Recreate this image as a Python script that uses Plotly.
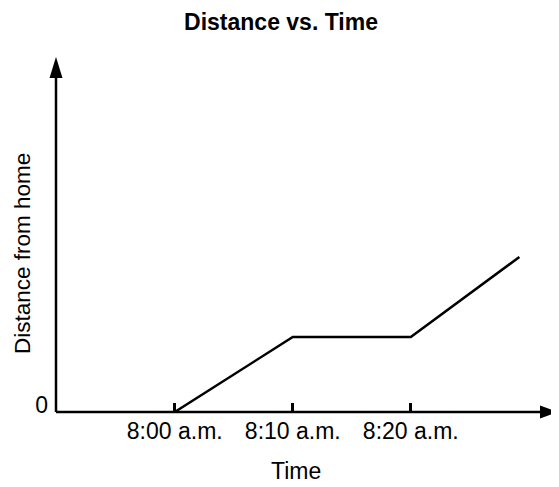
import plotly.graph_objects as go

# Data (minutes after 8:00 a.m., distance in arbitrary units)
times = [0, 10, 20, 29.2]
distances = [0, 3, 3, 6.2]
tick_vals = [0, 10, 20]
tick_labels = ["8:00 a.m.", "8:10 a.m.", "8:20 a.m."]

OFF = 8  # page body margin
W, H = 559 - OFF, 487 - OFF
PL, PR, PT, PB = 56, 558, 56, 412   # plot area in page pixels
ML, MR, MT, MB = PL - OFF, W - (PR - OFF), PT - OFF, H - (PB - OFF)
PW, PH = PR - PL, PB - PT
x_min, x_max = -10.06, 32.47
y_min, y_max = 0, 14.24
FONT = "Liberation Sans, Arial, Helvetica, sans-serif"
FS = 23


def px(x):
    return (x - PL) / PW


def py(y):
    return (PB - y) / PH


fig = go.Figure()
fig.add_trace(go.Scatter(x=times, y=distances, mode="lines",
                         line=dict(color="black", width=2.5),
                         hoverinfo="skip", showlegend=False))

# axis lines (paper-referenced so they are not clipped)
fig.add_shape(type="line", xref="paper", yref="paper", x0=0, x1=px(550), y0=0, y1=0,
              line=dict(color="black", width=2.5), layer="above")
fig.add_shape(type="line", xref="paper", yref="paper", x0=0, x1=0, y0=0, y1=py(70),
              line=dict(color="black", width=2.5), layer="above")
# arrowheads
fig.add_shape(type="path", xref="paper", yref="paper", xsizemode="pixel", ysizemode="pixel",
              xanchor=px(558), yanchor=0,
              path="M0,0 L-18,6.5 L-18,-6.5 Z",
              fillcolor="black", line=dict(color="black", width=0), layer="above")
fig.add_shape(type="path", xref="paper", yref="paper", xsizemode="pixel", ysizemode="pixel",
              xanchor=0, yanchor=py(57),
              path="M0,0 L-6.5,-21 L6.5,-21 Z",
              fillcolor="black", line=dict(color="black", width=0), layer="above")

fig.update_layout(
    width=W, height=H,
    margin=dict(l=ML, r=MR, t=MT, b=MB),
    paper_bgcolor="white", plot_bgcolor="white",
    font=dict(family=FONT, size=FS, color="black"),
    title=dict(text="<b>Distance vs. Time</b>", x=(281 - OFF) / W, xref="container",
               y=1 - (22 - OFF) / H, yref="container", yanchor="middle", xanchor="center",
               font=dict(family=FONT, size=FS, color="black")),
    xaxis=dict(range=[x_min, x_max], showgrid=False, zeroline=False, showline=False,
               tickvals=tick_vals, ticktext=tick_labels,
               ticks="inside", ticklen=9, tickwidth=2.5, tickcolor="black",
               ticklabelstandoff=3,
               tickfont=dict(family=FONT, size=FS, color="black"), fixedrange=True),
    yaxis=dict(range=[y_min, y_max], showgrid=False, zeroline=False, showline=False,
               tickvals=[0], ticktext=["0"], ticks="", ticklabelshift=-7,
               ticklabelstandoff=7,
               tickfont=dict(family=FONT, size=FS, color="black"), fixedrange=True),
    annotations=[
        dict(text="Time", xref="paper", yref="paper",
             x=px(296), y=py(471),
             xanchor="center", yanchor="middle", showarrow=False,
             font=dict(family=FONT, size=FS, color="black")),
        dict(text="Distance from home", xref="paper", yref="paper",
             x=px(22), y=py(254),
             xanchor="center", yanchor="middle", textangle=-90, showarrow=False,
             font=dict(family=FONT, size=22.5, color="black")),
    ],
)

fig.write_html("out.html")
